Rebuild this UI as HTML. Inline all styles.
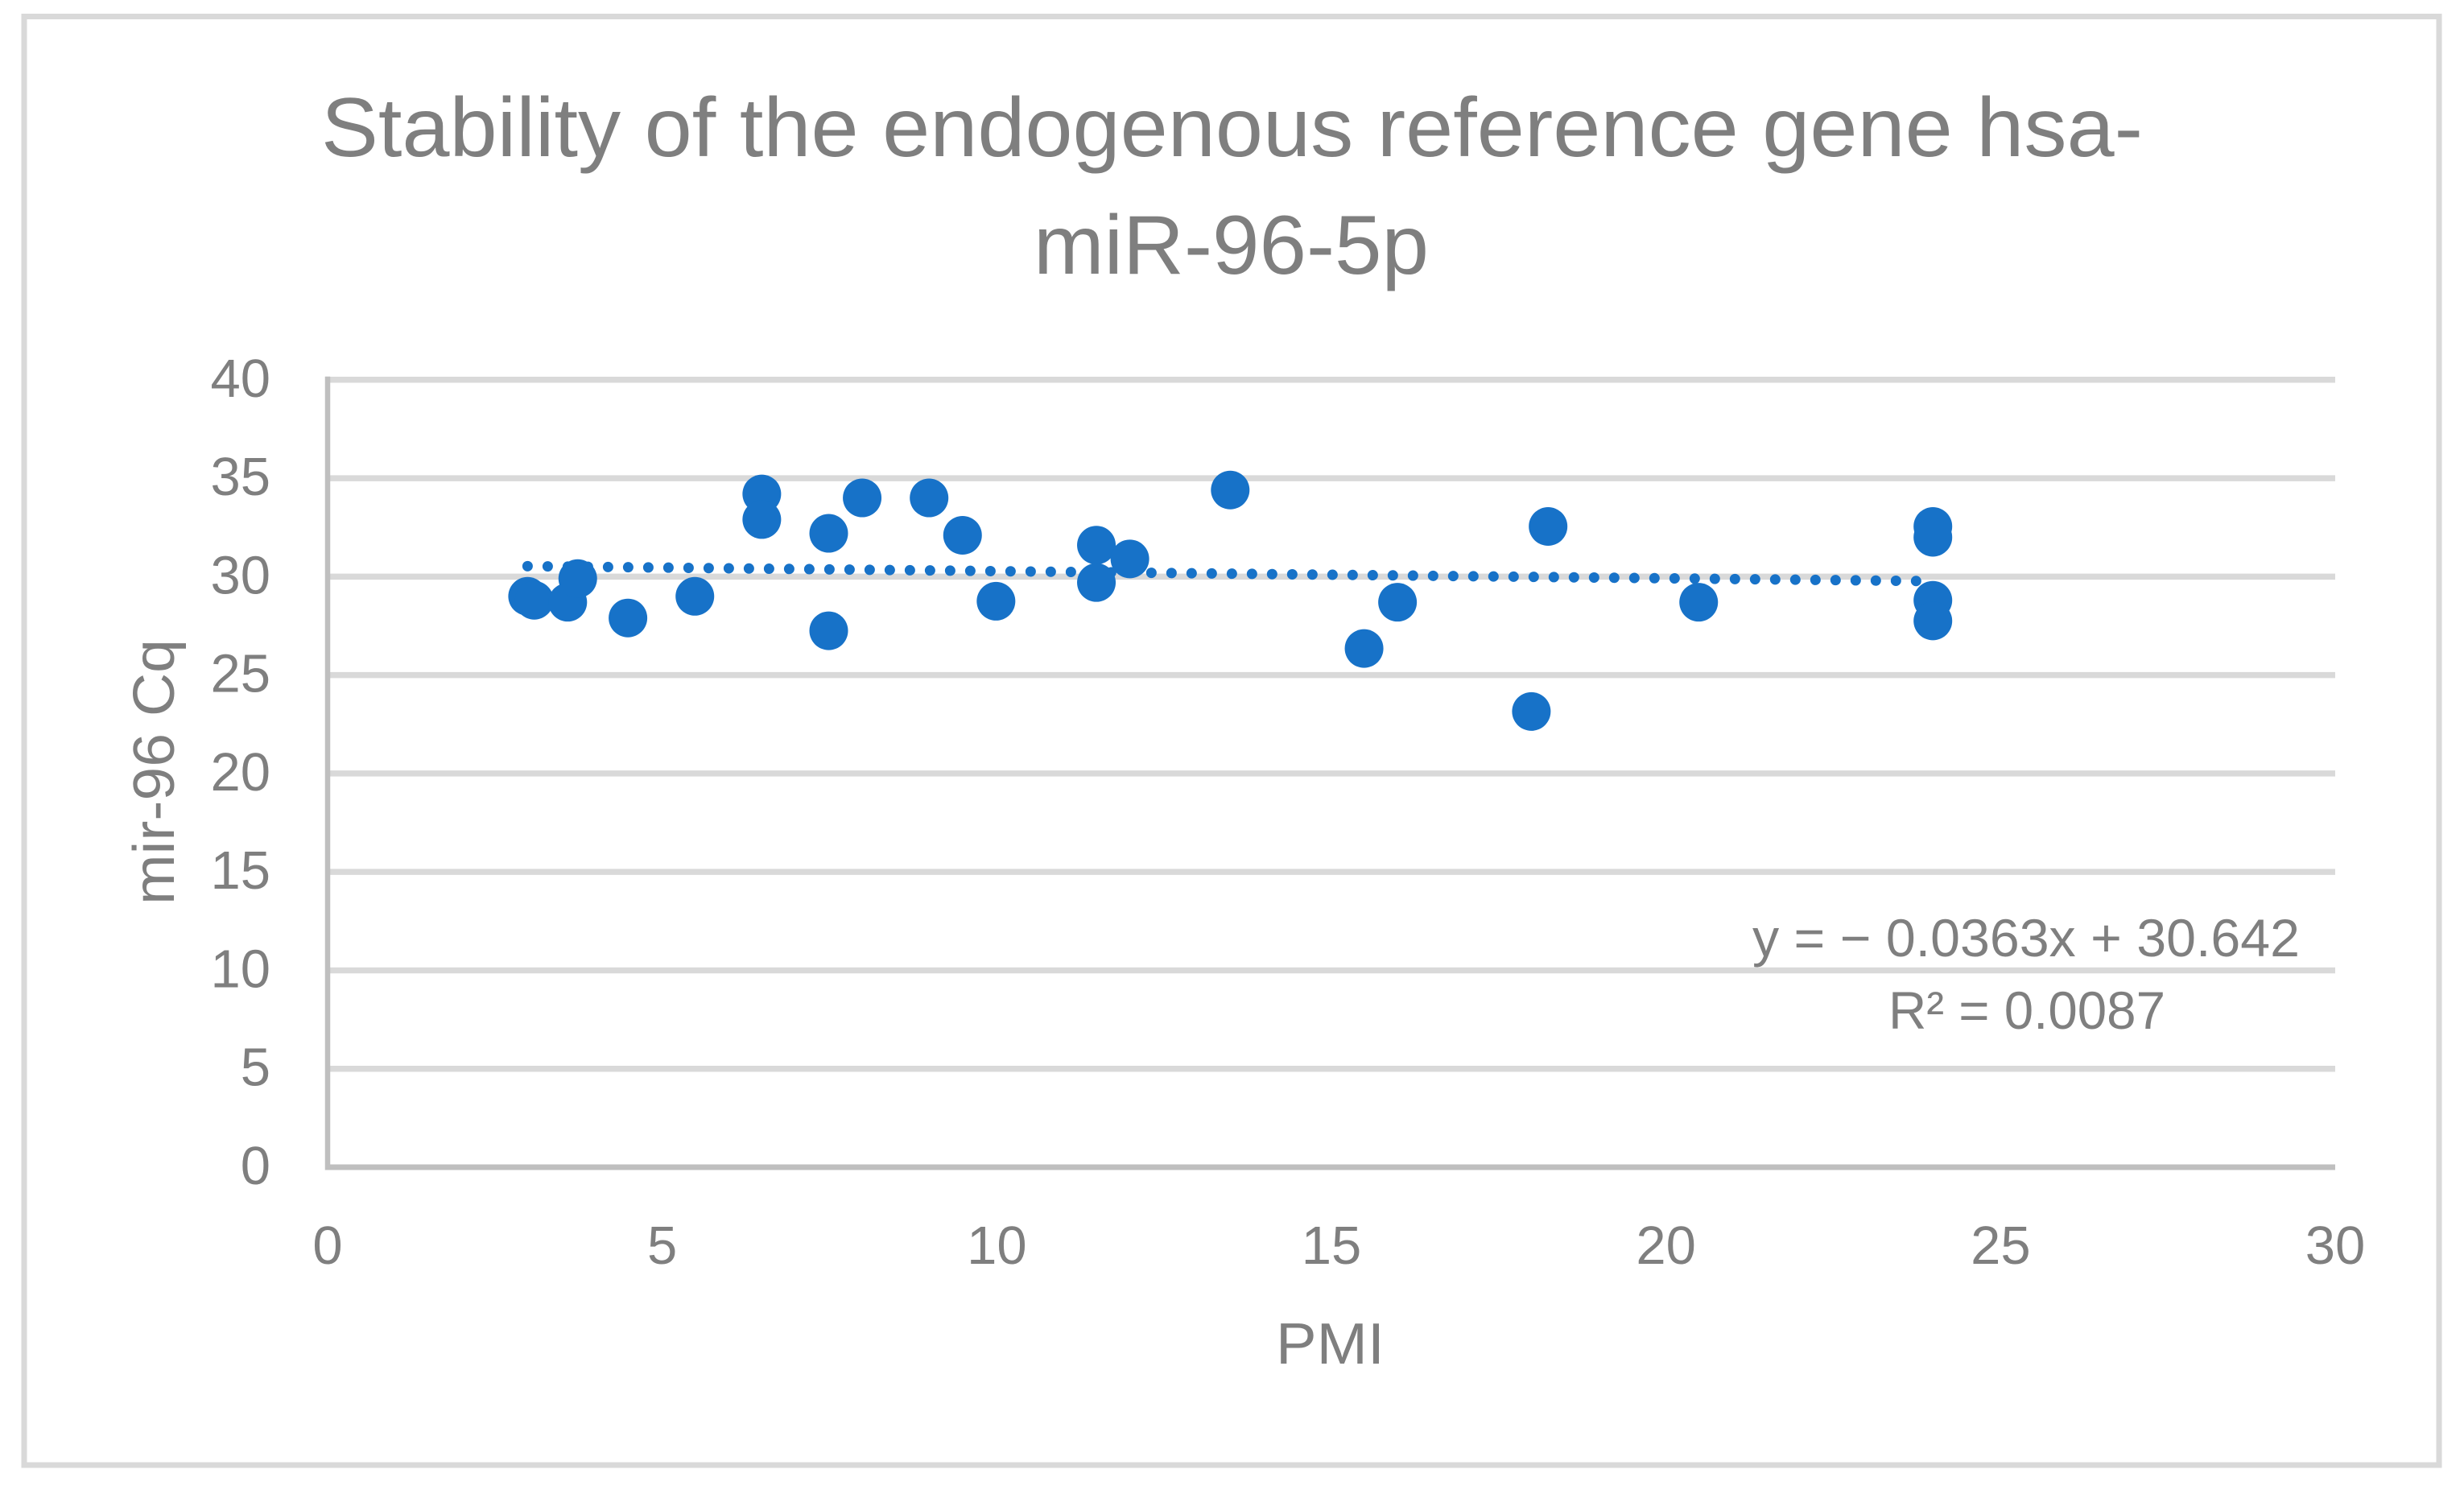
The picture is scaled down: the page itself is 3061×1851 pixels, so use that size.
<!DOCTYPE html>
<html lang="en">
<head>
<meta charset="utf-8">
<title>Stability of the endogenous reference gene hsa-miR-96-5p</title>
<style>
html,body{margin:0;padding:0;background:#fff;width:3061px;height:1851px;overflow:hidden}
svg{display:block}
text{font-family:"Liberation Sans",sans-serif;fill:#7f7f7f}
</style>
</head>
<body>
<svg id="chart" xmlns="http://www.w3.org/2000/svg" width="3061" height="1851" viewBox="0 0 3061 1851">
<rect x="30" y="20.5" width="3000" height="1799.5" fill="#fff" stroke="#d9d9d9" stroke-width="7"/>
<g id="grid"></g>
<g id="axes"></g>
<g id="trend"></g>
<g id="points"></g>
<g id="ylabels"></g>
<g id="xlabels"></g>
<text x="399" y="194" font-size="104" textLength="2263" lengthAdjust="spacingAndGlyphs">Stability of the endogenous reference gene hsa-</text>
<text x="1284" y="340" font-size="104" textLength="491" lengthAdjust="spacingAndGlyphs">miR-96-5p</text>
<text x="1585" y="1694" font-size="72" textLength="135" lengthAdjust="spacingAndGlyphs">PMI</text>
<text transform="translate(216,1124) rotate(-90)" x="0" y="0" font-size="72" textLength="330" lengthAdjust="spacingAndGlyphs">mir-96 Cq</text>
<text x="2177" y="1188" font-size="66" textLength="680" lengthAdjust="spacingAndGlyphs">y = − 0.0363x + 30.642</text>
<text x="2346" y="1278" font-size="66" textLength="344" lengthAdjust="spacingAndGlyphs">R² = 0.0087</text>
</svg>
<script>
const pmiValues = [3, 3.1, 3.6, 3.75, 4.5, 5.5, 6.5, 6.5, 7.5, 7.5, 8, 9, 9.5, 10, 11.5, 11.5, 12, 13.5, 15.5, 16, 18, 18.25, 20.5, 24, 24, 24, 24];
const cqValues = [29.0, 28.8, 28.7, 29.9, 27.9, 29.0, 34.2, 32.9, 32.2, 27.25, 34.0, 34.0, 32.1, 28.75, 31.6, 29.7, 30.9, 34.4, 26.35, 28.7, 23.15, 32.55, 28.7, 32.55, 32.0, 28.8, 27.75];
const xTicks = [0, 5, 10, 15, 20, 25, 30];
const yTicks = [0, 5, 10, 15, 20, 25, 30, 35, 40];
const trendSlope = -0.0363;
const trendIntercept = 30.642;
const trendRange = [3, 24];

const NS = 'http://www.w3.org/2000/svg';
const plot = { left: 406, right: 2900, top: 471.8, bottom: 1450 };
const xMax = 30, yMax = 40;
function xScale(v) { return plot.left + (v / xMax) * (plot.right - plot.left); }
function yScale(v) { return plot.bottom - (v / yMax) * (plot.bottom - plot.top); }
function make(tag, attrs) {
  const el = document.createElementNS(NS, tag);
  for (const k in attrs) el.setAttribute(k, attrs[k]);
  return el;
}
const gridG = document.getElementById('grid');
const axesG = document.getElementById('axes');
const trendG = document.getElementById('trend');
const pointsG = document.getElementById('points');
const yLabG = document.getElementById('ylabels');
const xLabG = document.getElementById('xlabels');

yTicks.forEach(function (t) {
  if (t !== 0) {
    const gl = make('line', { x1: plot.left + 4, x2: plot.right + 1, y1: yScale(t), y2: yScale(t), stroke: '#d9d9d9', 'stroke-width': 7.5 });
    
    
    gridG.appendChild(gl);
  }
  const lab = make('text', { x: 336, y: yScale(t) + 21, 'font-size': 67, 'text-anchor': 'end' });
  lab.textContent = String(t);
  
  
  yLabG.appendChild(lab);
});

xTicks.forEach(function (t) {
  const lab = make('text', { x: xScale(t) + 1, y: 1570, 'font-size': 67, 'text-anchor': 'middle' });
  lab.textContent = String(t);
  
  
  xLabG.appendChild(lab);
});

const yAxis = make('line', { x1: plot.left + 1, x2: plot.left + 1, y1: yScale(yMax) - 4, y2: plot.bottom + 3.5, stroke: '#bfbfbf', 'stroke-width': 6.5 });


axesG.appendChild(yAxis);

const xAxis = make('line', { x1: plot.left - 2, x2: plot.right + 1, y1: plot.bottom, y2: plot.bottom, stroke: '#bfbfbf', 'stroke-width': 7 });


axesG.appendChild(xAxis);

const trendLine = make('line', {
  x1: xScale(trendRange[0]), y1: yScale(trendIntercept + trendSlope * trendRange[0]),
  x2: xScale(trendRange[1]), y2: yScale(trendIntercept + trendSlope * trendRange[1]),
  stroke: '#1772c8', 'stroke-width': 13, 'stroke-linecap': 'round', 'stroke-dasharray': '0.01 24.99'
});


trendG.appendChild(trendLine);

pmiValues.forEach(function (x, i) {
  const c = make('circle', { cx: xScale(x), cy: yScale(cqValues[i]), r: 24, fill: '#1772c8' });
  
  
  pointsG.appendChild(c);
});
</script>
</body>
</html>
